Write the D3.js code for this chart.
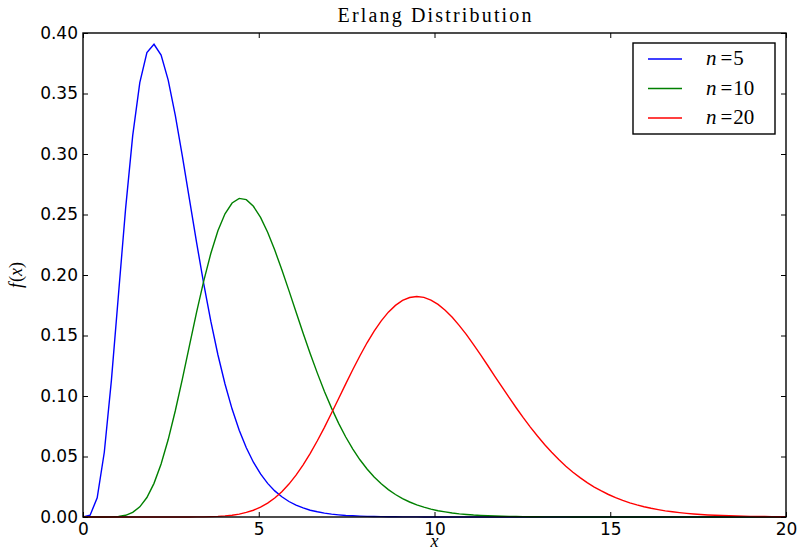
<!DOCTYPE html>
<html>
<head>
<meta charset="utf-8">
<script src="https://cdn.jsdelivr.net/npm/d3@7"></script>
<style>
  body { margin: 0; background: #fff; }
  .tick text { font-family: "DejaVu Sans", sans-serif; font-size: 17px; fill: #000; }
</style>
</head>
<body>
<svg id="chart" width="800" height="553"></svg>
<script>
// x grid (shared by the three curves)
var xs = [0, 0.202, 0.404, 0.606, 0.808, 1.010, 1.212, 1.414, 1.616, 1.818,
  2.020, 2.222, 2.424, 2.626, 2.828, 3.030, 3.232, 3.434, 3.636, 3.838,
  4.040, 4.242, 4.444, 4.646, 4.848, 5.051, 5.253, 5.455, 5.657, 5.859,
  6.061, 6.263, 6.465, 6.667, 6.869, 7.071, 7.273, 7.475, 7.677, 7.879,
  8.081, 8.283, 8.485, 8.687, 8.889, 9.091, 9.293, 9.495, 9.697, 9.899,
  10.101, 10.303, 10.505, 10.707, 10.909, 11.111, 11.313, 11.515, 11.717, 11.919,
  12.121, 12.323, 12.525, 12.727, 12.929, 13.131, 13.333, 13.535, 13.737, 13.939,
  14.141, 14.343, 14.545, 14.747, 14.949, 15.152, 15.354, 15.556, 15.758, 15.960,
  16.162, 16.364, 16.566, 16.768, 16.970, 17.172, 17.374, 17.576, 17.778, 17.980,
  18.182, 18.384, 18.586, 18.788, 18.990, 19.192, 19.394, 19.596, 19.798, 20.000];

var n5 = [0, 0.0015, 0.0158, 0.0535, 0.1129, 0.1841, 0.2549, 0.3152, 0.3590, 0.3839,
  0.3907, 0.3818, 0.3611, 0.3320, 0.2981, 0.2623, 0.2267, 0.1929, 0.1618, 0.1341,
  0.1099, 0.0892, 0.0717, 0.0572, 0.0453, 0.0356, 0.0278, 0.0216, 0.0167, 0.0128,
  0.0098, 0.0075, 0.0056, 0.0043, 0.0032, 0.0024, 0.0018, 0.0013, 0.0010, 0.0007,
  0.0005, 0.0004, 0.0003, 0.0002, 0.0002, 0.0001, 0.0001, 0.0001, 0, 0,
  0, 0, 0, 0, 0, 0, 0, 0, 0, 0,
  0, 0, 0, 0, 0, 0, 0, 0, 0, 0,
  0, 0, 0, 0, 0, 0, 0, 0, 0, 0,
  0, 0, 0, 0, 0, 0, 0, 0, 0, 0,
  0, 0, 0, 0, 0, 0, 0, 0, 0, 0];

var n10 = [0, 0, 0, 0, 0.0001, 0.0004, 0.0014, 0.0038, 0.0084, 0.0161,
  0.0278, 0.0438, 0.0640, 0.0878, 0.1142, 0.1418, 0.1693, 0.1950, 0.2178, 0.2365,
  0.2506, 0.2595, 0.2633, 0.2623, 0.2568, 0.2476, 0.2353, 0.2206, 0.2043, 0.1871,
  0.1694, 0.1519, 0.1350, 0.1189, 0.1038, 0.0900, 0.0774, 0.0661, 0.0561, 0.0473,
  0.0397, 0.0331, 0.0274, 0.0226, 0.0186, 0.0152, 0.0124, 0.0100, 0.0081, 0.0065,
  0.0052, 0.0042, 0.0033, 0.0026, 0.0021, 0.0016, 0.0013, 0.0010, 0.0008, 0.0006,
  0.0005, 0.0004, 0.0003, 0.0002, 0.0002, 0.0001, 0.0001, 0.0001, 0.0001, 0,
  0, 0, 0, 0, 0, 0, 0, 0, 0, 0,
  0, 0, 0, 0, 0, 0, 0, 0, 0, 0,
  0, 0, 0, 0, 0, 0, 0, 0, 0, 0];

var n20 = [0, 0, 0, 0, 0, 0, 0, 0, 0, 0,
  0, 0, 0, 0, 0, 0, 0.0001, 0.0001, 0.0003, 0.0005,
  0.0009, 0.0015, 0.0024, 0.0038, 0.0056, 0.0082, 0.0115, 0.0157, 0.0209, 0.0272,
  0.0346, 0.0431, 0.0526, 0.0630, 0.0741, 0.0859, 0.0979, 0.1100, 0.1219, 0.1333,
  0.1440, 0.1536, 0.1621, 0.1693, 0.1749, 0.1790, 0.1814, 0.1822, 0.1815, 0.1793,
  0.1757, 0.1709, 0.1650, 0.1582, 0.1507, 0.1425, 0.1340, 0.1252, 0.1163, 0.1075,
  0.0988, 0.0903, 0.0821, 0.0743, 0.0669, 0.0599, 0.0535, 0.0475, 0.0420, 0.0370,
  0.0325, 0.0284, 0.0247, 0.0215, 0.0186, 0.0160, 0.0137, 0.0117, 0.0100, 0.0085,
  0.0072, 0.0061, 0.0051, 0.0043, 0.0036, 0.0030, 0.0025, 0.0021, 0.0017, 0.0014,
  0.0012, 0.0010, 0.0008, 0.0007, 0.0005, 0.0004, 0.0004, 0.0003, 0.0002, 0.0002];

var seriesNames = ["5", "10", "20"];
var seriesColors = ["#0000ff", "#008000", "#ff0000"];
var xTicks = [0, 5, 10, 15, 20];
var yTicks = [0, 0.05, 0.10, 0.15, 0.20, 0.25, 0.30, 0.35, 0.40];

var margin = { top: 33, bottom: 36, left: 83, right: 14 };
var svg = d3.select("#chart");
var width = +svg.attr("width");
var height = +svg.attr("height");
var innerWidth = width - margin.left - margin.right;
var innerHeight = height - margin.top - margin.bottom;

var x = d3.scaleLinear().domain([0, 20]).range([margin.left, margin.left + innerWidth]);
var y = d3.scaleLinear().domain([0, 0.40]).range([margin.top + innerHeight, margin.top]);

var series = [n5, n10, n20];

// curves
var line = d3.line()
  .x(function(d, i) { return x(xs[i]); })
  .y(function(d) { return y(d); });

series.forEach(function(s, k) {
  svg.append("path")
    .datum(s)
    .attr("fill", "none")
    .attr("stroke", seriesColors[k])
    .attr("stroke-width", 1.4)
    .attr("d", line);
});

// axes, ticks pointing inward
svg.append("g")
  .attr("transform", `translate(0,${margin.top + innerHeight})`)
  .call(d3.axisBottom(x).tickValues(xTicks).tickSize(-5).tickPadding(6).tickFormat(d3.format("d")))
  .call(g => g.select(".domain").remove());

svg.append("g")
  .attr("transform", `translate(0,${margin.top})`)
  .call(d3.axisTop(x).tickValues(xTicks).tickSize(-5))
  .call(g => g.select(".domain").remove())
  .call(g => g.selectAll("text").remove());

svg.append("g")
  .attr("transform", `translate(${margin.left},0)`)
  .call(d3.axisLeft(y).tickValues(yTicks).tickSize(-5).tickPadding(5).tickFormat(d3.format(".2f")))
  .call(g => g.select(".domain").remove());

svg.append("g")
  .attr("transform", `translate(${margin.left + innerWidth},0)`)
  .call(d3.axisRight(y).tickValues(yTicks).tickSize(-5))
  .call(g => g.select(".domain").remove())
  .call(g => g.selectAll("text").remove());

svg.selectAll(".tick line").attr("stroke", "#000").attr("stroke-width", 1);

// frame
svg.append("rect")
  .attr("x", margin.left)
  .attr("y", margin.top)
  .attr("width", innerWidth)
  .attr("height", innerHeight)
  .attr("fill", "none")
  .attr("stroke", "#000")
  .attr("stroke-width", 1.4);

// title and axis labels
svg.append("text")
  .attr("x", margin.left + innerWidth / 2)
  .attr("y", 22)
  .attr("text-anchor", "middle")
  .attr("textLength", 194)
  .attr("lengthAdjust", "spacing")
  .style("font-family", "'Liberation Serif', serif")
  .style("font-size", "20px")
  .text("Erlang Distribution");

svg.append("text")
  .attr("x", margin.left + innerWidth / 2)
  .attr("y", 547)
  .attr("text-anchor", "middle")
  .style("font-family", "'Liberation Serif', serif")
  .style("font-style", "italic")
  .style("font-size", "18px")
  .text("x");

svg.append("text")
  .attr("transform", `translate(22,${margin.top + innerHeight / 2}) rotate(-90)`)
  .attr("text-anchor", "middle")
  .style("font-family", "'Liberation Serif', serif")
  .style("font-size", "18px")
  .call(t => {
    t.append("tspan").style("font-style", "italic").text("f");
    t.append("tspan").attr("dx", 1).text("(");
    t.append("tspan").style("font-style", "italic").text("x");
    t.append("tspan").text(")");
  });

// legend
var legend = svg.append("g");
legend.append("rect")
  .attr("x", 633)
  .attr("y", 43)
  .attr("width", 142)
  .attr("height", 91)
  .attr("fill", "#fff")
  .attr("stroke", "#000")
  .attr("stroke-width", 1.4);

seriesNames.forEach(function(name, k) {
  var ly = 59 + k * 29.5;
  legend.append("line")
    .attr("x1", 648).attr("x2", 682)
    .attr("y1", ly).attr("y2", ly)
    .attr("stroke", seriesColors[k])
    .attr("stroke-width", 1.4);
  var t = legend.append("text")
    .attr("x", 706)
    .attr("y", ly + 6)
    .style("font-family", "'Liberation Serif', serif")
    .style("font-size", "21px");
  t.append("tspan").style("font-style", "italic").text("n");
  t.append("tspan").attr("dx", 4).text("=");
  t.append("tspan").attr("dx", 1).text(name);
});
</script>
</body>
</html>
